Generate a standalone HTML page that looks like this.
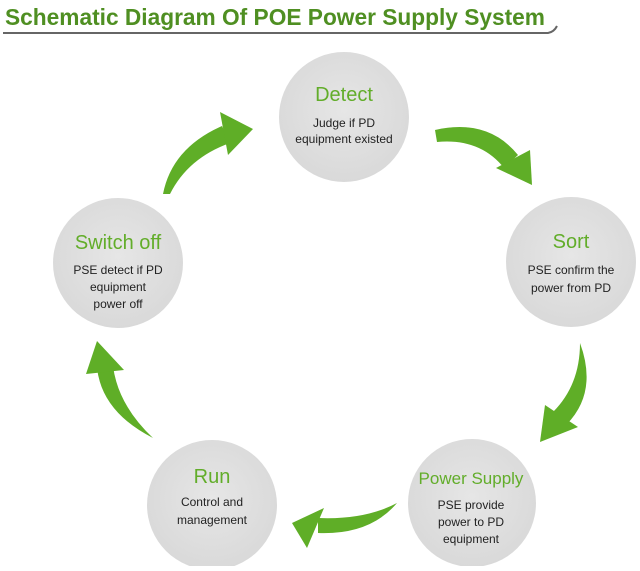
<!DOCTYPE html>
<html><head><meta charset="utf-8"><style>
body{margin:0;background:#fff;width:640px;height:566px;overflow:hidden;font-family:"Liberation Sans",sans-serif}
</style></head><body>
<svg width="640" height="566" viewBox="0 0 640 566" xmlns="http://www.w3.org/2000/svg">
<defs>
<radialGradient id="g" cx="50%" cy="45%" r="55%"><stop offset="0" stop-color="#e6e6e6"/><stop offset="1" stop-color="#d9d9d9"/></radialGradient>
</defs>
<text x="5" y="25" font-size="23" font-weight="bold" fill="#4f8f22" textLength="540" lengthAdjust="spacingAndGlyphs">Schematic Diagram Of POE Power Supply System</text>
<path d="M3 33 L548 33 Q554 32 557 26" stroke="#666" stroke-width="2" fill="none"/>
<g fill="url(#g)">
<circle cx="344" cy="117" r="65"/>
<circle cx="571" cy="262" r="65"/>
<circle cx="472" cy="503" r="64"/>
<circle cx="212" cy="505" r="65"/>
<circle cx="118" cy="263" r="65"/>
</g>
<g fill="#62ad2a" text-anchor="middle">
<text x="344" y="101" font-size="20">Detect</text>
<text x="571" y="248" font-size="20">Sort</text>
<text x="471" y="484" font-size="17">Power Supply</text>
<text x="212" y="483" font-size="20">Run</text>
<text x="118" y="249" font-size="20">Switch off</text>
</g>
<g fill="#222" text-anchor="middle" font-size="12">
<text x="344" y="127">Judge if PD</text><text x="344" y="143">equipment existed</text>
<text x="571" y="274">PSE confirm the</text><text x="571" y="292">power from PD</text>
<text x="471" y="509">PSE provide</text><text x="471" y="526">power to PD</text><text x="471" y="543">equipment</text>
<text x="212" y="506">Control and</text><text x="212" y="524">management</text>
<text x="118" y="274">PSE detect if PD</text><text x="118" y="291">equipment</text><text x="118" y="308">power off</text>
</g>
<g fill="#5fae27">
<path d="M163 194 Q172 148 222 126 L230 143 Q188 158 170 194 Z"/>
<polygon points="220,112 253,129 228,155"/>
<path d="M435 130 Q488 118 518 155 L504 168 Q480 138 437 142 Z"/>
<polygon points="496,168 530,150 532,185"/>
<path d="M580 343 Q598 392 567 424 L553 412 Q580 385 580 343 Z"/>
<polygon points="545,405 578,427 540,442"/>
<path d="M397 503 Q370 535 318 533 L318 518 Q365 520 397 503 Z"/>
<polygon points="324,508 292,523 307,548"/>
<path d="M153 438 Q102 412 97 368 L113 366 Q118 405 153 438 Z"/>
<polygon points="86,374 97,341 124,370"/>
</g>
</svg>
</body></html>
